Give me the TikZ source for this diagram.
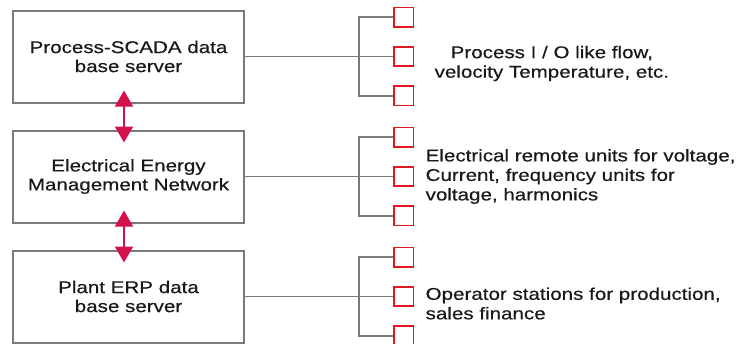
\documentclass[tikz,border=0pt]{standalone}
\usepackage{fontspec}
\setmainfont{Liberation Sans}[FakeStretch=1.21, FakeBold=0.4]
\usetikzlibrary{arrows.meta}
\usetikzlibrary{positioning}
\definecolor{linegray}{HTML}{7A7A7A}
\definecolor{boxred}{HTML}{E0191E}
\definecolor{linkred}{HTML}{D3124A}
\tikzset{node distance=26pt,
server/.style={
draw=linegray,
line width=2pt,
minimum width=231pt,
minimum height=92pt,
align=center,
text=black!90,
font=\fontsize{17}{19}\selectfont},
unit/.style={
draw=boxred,
line width=1.6pt,
minimum size=19.5pt,
inner sep=0pt},
wire/.style={draw=linegray, line width=1.9pt},
link/.style={
draw=linkred,
line width=1.8pt,
{Triangle[width=18pt,length=16pt]}-{Triangle[width=18pt,length=16pt]}},
info/.style={
text=black!90,
font=\fontsize{17}{19.5}\selectfont}}

\begin{document}
\begin{tikzpicture}[x=1pt, y=-1pt]
\useasboundingbox (0,0) rectangle (746,343);
\node[server] (scada) at (128.5,56.5) {Process-SCADA data\\base server};
\node[server, below=of scada] (eem) {Electrical Energy\\Management Network};
\node[server, below=of eem] (erp) {Plant ERP data\\base server};
\draw[link] ([xshift=-4.5pt,yshift=13pt]scada.south) -- ([xshift=-4.5pt,yshift=-13pt]eem.north);
\draw[link] ([xshift=-4.5pt,yshift=13pt]eem.south) -- ([xshift=-4.5pt,yshift=-13pt]erp.north);
\foreach \s/\n in {scada/1, eem/2, erp/3} {
  \coordinate[right=114pt of \s.east] (j\n);
  \node[unit, right=34pt of j\n] (u\n2) {};
  \node[unit, above=18pt of u\n2] (u\n1) {};
  \node[unit, below=18pt of u\n2] (u\n3) {};
  \draw[wire] (\s.east) -- (u\n2.west);
  \draw[wire] (u\n1.west) -| (j\n) |- (u\n3.west);
}
\node[info, right=17pt of u12, yshift=-7pt, align=center] (txt1) {Process I / O like flow,\\velocity Temperature, etc.};
\node[info, right=8pt of u22, align=left] (txt2) {Electrical remote units for voltage,\\Current, frequency units for\\voltage, harmonics};
\node[info, right=8pt of u32, yshift=-7pt, align=left] (txt3) {Operator stations for production,\\sales finance};
\end{tikzpicture}
\end{document}
